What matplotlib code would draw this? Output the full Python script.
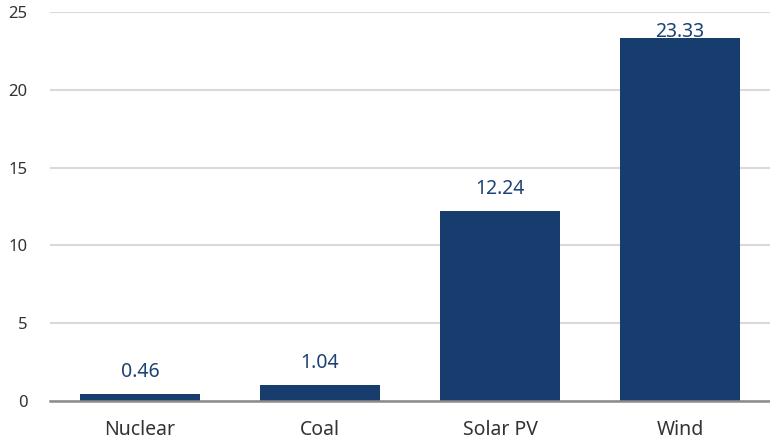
import matplotlib
matplotlib.use("Agg")
import matplotlib.pyplot as plt

categories = ["Nuclear", "Coal", "Solar PV", "Wind"]
values = [0.46, 1.04, 12.24, 23.33]
y_ticks = [0, 5, 10, 15, 20, 25]

bar_color = "#163d6e"
label_color = "#1d4274"
text_color = "#333333"

plt.rcParams["font.family"] = ["Noto Sans", "DejaVu Sans"]

fig = plt.figure(figsize=(7.7, 4.44), dpi=100)
ax = fig.add_axes([50 / 770, 43 / 444, 720 / 770, 389 / 444])

x = list(range(len(categories)))
ax.bar(x, values, width=0.665, color=bar_color, zorder=3)

ax.set_xlim(-0.5, len(categories) - 0.5)
ax.set_ylim(0, 25)
ax.set_yticks(y_ticks)
ax.set_xticks(x)
ax.set_xticklabels(categories)

ax.yaxis.grid(True, color="#d9d9d9", linewidth=1.5, zorder=0)
ax.set_axisbelow(True)
for side in ("top", "right", "left"):
    ax.spines[side].set_visible(False)
ax.spines["bottom"].set_color("#8c8c8c")
ax.spines["bottom"].set_linewidth(1.8)
ax.spines["bottom"].set_zorder(4)

ax.tick_params(axis="y", length=0, pad=16, labelsize=12, labelcolor=text_color)
ax.tick_params(axis="x", length=0, pad=14, labelsize=14, labelcolor=text_color)

# value labels sit above each bar, kept inside the plotting area
gap = 1.09
cap = 23.41
for xi, v in zip(x, values):
    ax.text(xi, min(v + gap, cap), f"{v:.2f}", ha="center", va="baseline",
            fontsize=14, color=label_color, zorder=5)

fig.savefig("out.png", dpi=100)
